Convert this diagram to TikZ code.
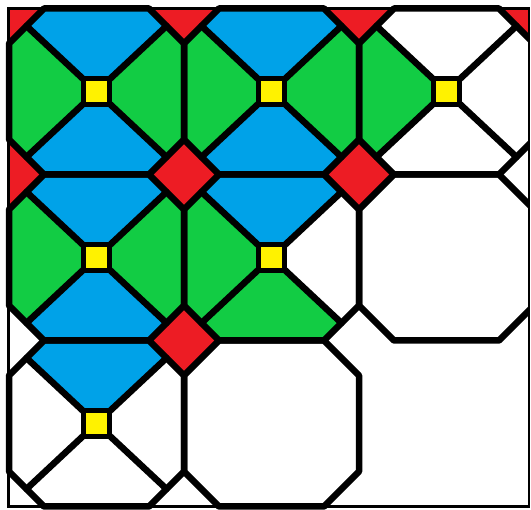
\documentclass[tikz,border=0pt]{standalone}
\definecolor{tred}{HTML}{ED1C24}
\definecolor{tblue}{HTML}{00A2E8}
\definecolor{tgreen}{HTML}{12CC44}
\definecolor{tyellow}{HTML}{FFF200}
\tikzset{
  edge/.style={line width=6.5pt, line join=round, line cap=round, draw=black},
  ysq/.style={draw=black, fill=tyellow, line width=5pt, minimum size=26pt, inner sep=0pt, shape=rectangle},
  framebox/.style={line width=2.5pt, draw=black},
}
\newcommand\cellfill[6]{%
  \begin{scope}[shift={(#1,#2)}]
    \fill[#3] (87.5,83) -- (17.5,17.5) -- (35,0) -- (140,0) -- (157.5,17.5) -- cycle;
    \fill[#4] (87.5,83) -- (157.5,17.5) -- (175,35) -- (175,131) -- (157.5,148.5) -- cycle;
    \fill[#5] (87.5,83) -- (157.5,148.5) -- (140,166) -- (35,166) -- (17.5,148.5) -- cycle;
    \fill[#6] (87.5,83) -- (17.5,148.5) -- (0,131) -- (0,35) -- (17.5,17.5) -- cycle;
  \end{scope}}
\newcommand\octline[2]{%
  \begin{scope}[shift={(#1,#2)}]
    \draw[edge] (35,0) -- (140,0) -- (175,35) -- (175,131) -- (140,166) -- (35,166) -- (0,131) -- (0,35) -- cycle;
  \end{scope}}
\newcommand\diagline[2]{%
  \begin{scope}[shift={(#1,#2)}]
    \draw[edge] (17.5,17.5) -- (157.5,148.5);
    \draw[edge] (157.5,17.5) -- (17.5,148.5);
  \end{scope}}
\newcommand\reddiamond[2]{%
  \begin{scope}[shift={(#1,#2)}]
    \fill[tred] (-35,0) -- (0,-35) -- (35,0) -- (0,35) -- cycle;
  \end{scope}}
\begin{document}
\begin{tikzpicture}[x=1pt,y=-1pt]
\useasboundingbox (0,0) rectangle (531,510);
\fill[white] (0,0) rectangle (531,510);
% colour fills
\begin{scope}
  \clip (8.5,8.5) rectangle (529,506.5);
  \cellfill{9}{8.5}{tblue}{tgreen}{tblue}{tgreen}
  \cellfill{184}{8.5}{tblue}{tgreen}{tblue}{tgreen}
  \cellfill{359}{8.5}{white}{white}{white}{tgreen}
  \cellfill{9}{174.5}{tblue}{tgreen}{tblue}{tgreen}
  \cellfill{184}{174.5}{tblue}{white}{tgreen}{tgreen}
  \cellfill{9}{340.5}{tblue}{white}{white}{white}
  \reddiamond{9}{8.5}
  \reddiamond{184}{8.5}
  \reddiamond{359}{8.5}
  \reddiamond{534}{8.5}
  \reddiamond{9}{174.5}
  \reddiamond{184}{174.5}
  \reddiamond{359}{174.5}
  \reddiamond{184}{340.5}
\end{scope}
% black lines
\begin{scope}
  \clip (4,4) rectangle (529,510);
  \octline{9}{8.5}
  \octline{184}{8.5}
  \octline{359}{8.5}
  \octline{9}{174.5}
  \octline{184}{174.5}
  \octline{9}{340.5}
  \octline{184}{340.5}
  \octline{359}{174.5}
  \diagline{9}{8.5}
  \diagline{184}{8.5}
  \diagline{359}{8.5}
  \diagline{9}{174.5}
  \diagline{184}{174.5}
  \diagline{9}{340.5}
\end{scope}
\draw[framebox] (8.5,8.5) rectangle (529,506.5);
% yellow centre squares
\node[ysq] (y1) at (96.5,91.5) {};
\node[ysq] (y2) at (271.5,91.5) {};
\node[ysq] (y3) at (446.5,91.5) {};
\node[ysq] (y4) at (96.5,257.5) {};
\node[ysq] (y5) at (271.5,257.5) {};
\node[ysq] (y6) at (96.5,423.5) {};
\end{tikzpicture}
\end{document}
